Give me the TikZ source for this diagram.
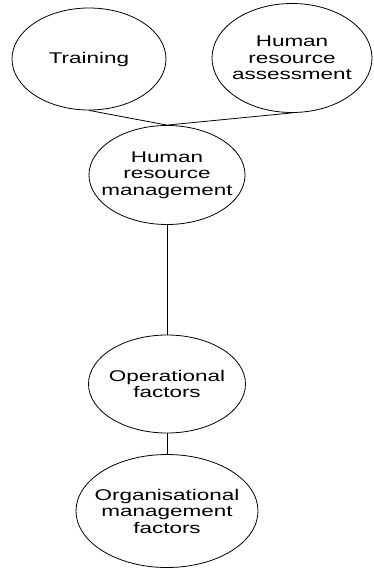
\documentclass[tikz,border=0pt]{standalone}
\usepackage{fontspec}
\setmainfont{Liberation Sans}[FakeStretch=1.45]
\usetikzlibrary{shapes.geometric}

\tikzset{
  oval/.style={ellipse, draw=black, line width=0.8pt, inner sep=0pt, fill=white},
  lbl/.style={anchor=center, align=center, inner sep=0pt,
              font=\fontsize{15.5}{16.5}\selectfont},
  link/.style={draw=black, line width=0.8pt}
}

\begin{document}
\begin{tikzpicture}[x=1pt, y=-1pt]
  \useasboundingbox (0,0) rectangle (373,569);

  % top row
  \node[oval, minimum width=154pt, minimum height=102pt,
        label={[lbl]center:Training}] (train) at (89,59) {};
  \node[oval, minimum width=160pt, minimum height=109pt,
        label={[lbl]center:Human\\resource\\assessment}] (assess) at (292,58) {};

  % central chain
  \node[oval, minimum width=156pt, minimum height=99pt,
        label={[lbl]center:Human\\resource\\management}] (hrm) at (167,175) {};
  \node[oval, minimum width=157pt, minimum height=98pt,
        label={[lbl]center:Operational\\factors}] (oper) at (167,384) {};
  \node[oval, minimum width=182pt, minimum height=113pt,
        label={[lbl]center:Organisational\\management\\factors}] (org) at (167,511) {};

  % connectors
  \draw[link] (train.south) -- (hrm.north);
  \draw[link] (assess.south) -- (hrm.north);
  \draw[link] (hrm.south) -- (oper.north);
  \draw[link] (oper.south) -- (org.north);
\end{tikzpicture}
\end{document}
